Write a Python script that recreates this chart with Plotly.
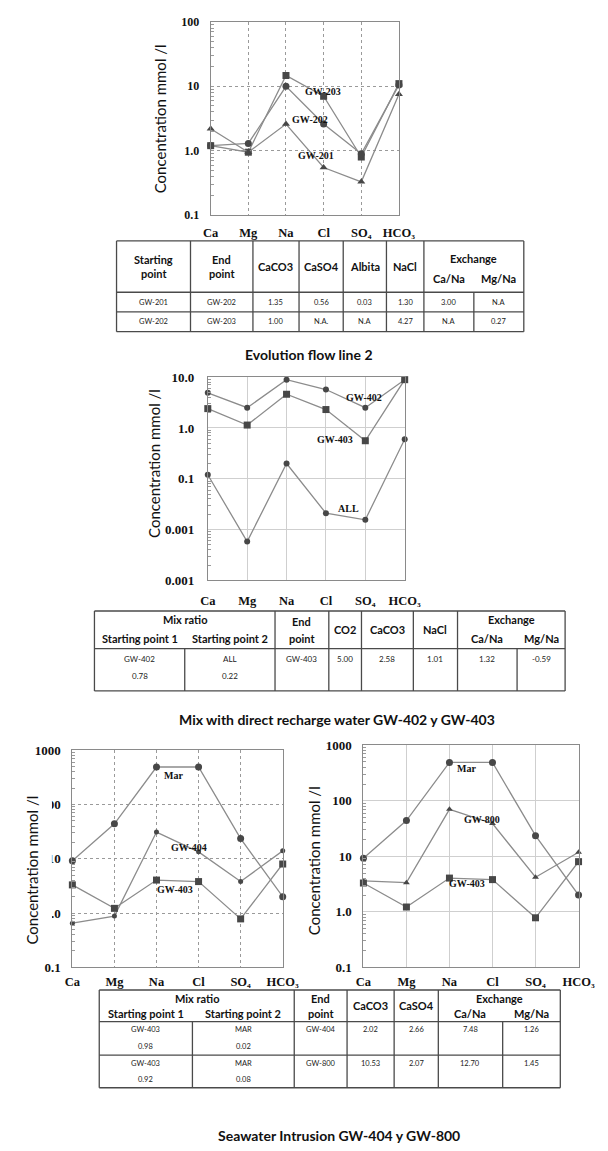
import plotly.graph_objects as go

W, H = 608, 1151

# ---------------------------------------------------------------- data
IONS = ["Ca", "Mg", "Na", "Cl", "SO4", "HCO3"]
ION_TICKS = ["<b>Ca</b>", "<b>Mg</b>", "<b>Na</b>", "<b>Cl</b>",
             "<b>SO\u2084</b>", "<b>HCO\u2083</b>"]

# Evolution flow line 2 (mmol/l)
GW201 = [2.2, 0.95, 2.6, 0.55, 0.33, 7.5]
GW202 = [1.2, 1.3, 10.0, 2.6, 0.9, 10.5]
GW203 = [1.2, 0.95, 14.7, 7.0, 0.8, 11.0]

# Mix with direct recharge water (mmol/l)
GW402 = [4.9, 2.5, 8.9, 5.7, 2.5, 8.9]
GW403_MIX = [2.4, 1.14, 4.6, 2.3, 0.56, 8.9]
ALL = [0.12, 0.0058, 0.2, 0.021, 0.0156, 0.6]

# Seawater intrusion (mmol/l)
MAR = [9.2, 44, 490, 490, 23.5, 2.0]
GW404 = [0.65, 0.88, 31, 13.4, 3.8, 14]
GW403_SEA = [3.3, 1.22, 4.05, 3.8, 0.78, 8.0]
GW800 = [3.6, 3.35, 70, 39, 4.2, 11.8]

# Mass-balance tables (two-line headers given as [upper, lower])
T1_HEAD = [["Starting", "point"], ["End", "point"], ["CaCO3"], ["CaSO4"], ["Albita"], ["NaCl"]]
T1_EXCH = ["Exchange", "Ca/Na", "Mg/Na"]
T1_ROWS = [["GW-201", "GW-202", "1.35", "0.56", "0.03", "1.30", "3.00", "N.A"],
           ["GW-202", "GW-203", "1.00", "N.A.", "N.A", "4.27", "N.A", "0.27"]]

T2_MIX = ["Mix ratio", "Starting point 1", "Starting point 2"]
T2_HEAD = [["End", "point"], ["CO2"], ["CaCO3"], ["NaCl"]]
T2_EXCH = ["Exchange", "Ca/Na", "Mg/Na"]
T2_ROW = [["GW-402", "ALL", "GW-403", "5.00", "2.58", "1.01", "1.32", "-0.59"],
          ["0.78", "0.22", "", "", "", "", "", ""]]

T3_MIX = ["Mix ratio", "Starting point 1", "Starting point 2"]
T3_HEAD = [["End", "point"], ["CaCO3"], ["CaSO4"]]
T3_EXCH = ["Exchange", "Ca/Na", "Mg/Na"]
T3_ROWS = [[["GW-403", "MAR", "GW-404", "2.02", "2.66", "7.48", "1.26"],
            ["0.98", "0.02", "", "", "", "", ""]],
           [["GW-403", "MAR", "GW-800", "10.53", "2.07", "12.70", "1.45"],
            ["0.92", "0.08", "", "", "", "", ""]]]

TITLES = ["Evolution flow line 2",
          "Mix with direct recharge water GW-402 y GW-403",
          "Seawater Intrusion GW-404 y GW-800"]
YTITLE = "Concentration mmol /l"

# ---------------------------------------------------------------- style
LINE_C = "#8c8c8c"
MARK_C = "#474747"
SERIF = "Liberation Serif"
SANS = "Lato"


def px(x):
    return x / W


def py(y):
    return 1 - y / H


fig = go.Figure()
layout_axes = {}
annotations = []
shapes = []


def add_chart(n, xpx, ypx, yrange, yvals, ytext, dash, gcolor, ysize, xstand, ystand):
    s = "" if n == 1 else str(n)
    minor_vals = [m * 10 ** k for k in range(yrange[0], yrange[1]) for m in range(2, 10)]
    layout_axes["xaxis" + s] = dict(
        domain=[px(xpx[0]), px(xpx[1])], anchor="y" + s, type="category",
        categoryorder="array", categoryarray=IONS, range=[0, 5],
        tickmode="array", tickvals=IONS, ticktext=ION_TICKS,
        tickfont=dict(family=SERIF, size=12.5, color="#111"),
        showgrid=True, gridcolor=gcolor, griddash=dash, gridwidth=1,
        showline=True, linecolor="#8a8a8a", linewidth=1, mirror=True,
        ticks="", ticklabelstandoff=xstand, zeroline=False, fixedrange=True)
    layout_axes["yaxis" + s] = dict(
        domain=[py(ypx[1]), py(ypx[0])], anchor="x" + s, type="log",
        range=yrange, tickmode="array", tickvals=yvals,
        ticktext=["<b>%s</b>" % t for t in ytext],
        tickfont=dict(family=SERIF, size=ysize, color="#111"),
        showgrid=True, gridcolor=gcolor, griddash=dash, gridwidth=1,
        showline=True, linecolor="#8a8a8a", linewidth=1, mirror=True,
        ticks="", ticklabelstandoff=ystand, zeroline=False, fixedrange=True,
        minor=dict(tickmode="array", tickvals=minor_vals, ticks="inside",
                   ticklen=3, tickcolor="#9a9a9a", showgrid=False))
    return ("x" + s, "y" + s)


def add_series(ax, vals, symbol, size):
    fig.add_trace(go.Scatter(
        x=IONS, y=vals, xaxis=ax[0], yaxis=ax[1], mode="lines+markers",
        line=dict(color=LINE_C, width=1.3),
        marker=dict(symbol=symbol, size=size, color=MARK_C),
        cliponaxis=False, showlegend=False, hoverinfo="skip"))


def label(x, y, text, size=10, family=SERIF, bold=True, color="#111"):
    t = "<b>%s</b>" % text if bold else text
    annotations.append(dict(x=px(x), y=py(y), xref="paper", yref="paper",
                            text=t, showarrow=False,
                            font=dict(family=family, size=size, color=color),
                            xanchor="center", yanchor="middle"))


def head(x, y, lines, size=11, gap=14):
    # one annotation per header line, stacked around y
    y0 = y - gap * (len(lines) - 1) / 2
    for k, t in enumerate(lines):
        label(x, y0 + gap * k, t, size, SANS)


def ytitle(x, y, bg=None, pad=1):
    annotations.append(dict(x=px(x), y=py(y), xref="paper", yref="paper",
                            text=YTITLE, showarrow=False, textangle=-90,
                            font=dict(family=SANS, size=15, color="#111"),
                            xanchor="center", yanchor="middle",
                            bgcolor=bg, borderpad=pad))


def hline(x0, x1, y, c="#4a4a4a", w=1.3):
    shapes.append(dict(type="line", xref="paper", yref="paper",
                       x0=px(x0), x1=px(x1), y0=py(y), y1=py(y),
                       line=dict(color=c, width=w)))


def vline(x, y0, y1, c="#4a4a4a", w=1.3):
    shapes.append(dict(type="line", xref="paper", yref="paper",
                       x0=px(x), x1=px(x), y0=py(y0), y1=py(y1),
                       line=dict(color=c, width=w)))


# ---------------------------------------------------------------- chart 1
ax1 = add_chart(1, (211, 407), (15, 211), [-1, 2], [0.1, 1, 10, 100],
                ["0.1", "1.0", "10", "100"], "dot", "#9a9a9a", 12, 6, 8)
add_series(ax1, GW203, "square", 7)
add_series(ax1, GW202, "circle", 7)
add_series(ax1, GW201, "triangle-up", 7)
label(328, 86, "GW-203")
label(314, 114, "GW-202")
label(321, 150, "GW-201")
ytitle(158, 113)

# ---------------------------------------------------------------- chart 2
ax2 = add_chart(2, (208, 413), (375, 581), [-3, 1], [0.001, 0.01, 0.1, 1, 10],
                ["0.001", "0.001", "0.1", "1.0", "10.0"], "solid", "#cfcfcf", 13, 9, 10)
add_series(ax2, GW402, "circle", 6)
add_series(ax2, GW403_MIX, "square", 7)
add_series(ax2, ALL, "circle", 6)
label(371, 396, "GW-402")
label(340, 438, "GW-403")
label(354, 508, "ALL")
ytitle(152, 463)

# ---------------------------------------------------------------- chart 3
ax3 = add_chart(3, (67, 286), (753, 973), [-1, 3], [0.1, 1, 10, 100, 1000],
                ["0.1", "1.0", "10", "100", "1000"], "dot", "#9a9a9a", 13, 3, 8)
add_series(ax3, MAR, "circle", 7)
add_series(ax3, GW404, "circle", 5)
add_series(ax3, GW403_SEA, "square", 7)
label(172, 779, "Mar")
label(188, 852, "GW-404")
label(174, 894, "GW-403")
ytitle(25, 875, bg="white", pad=10)

# ---------------------------------------------------------------- chart 4
ax4 = add_chart(4, (370, 594), (748, 973), [-1, 3], [0.1, 1, 10, 100, 1000],
                ["0.1", "1.0", "10", "100", "1000"], "solid", "#cfcfcf", 13, 3, 8)
add_series(ax4, MAR, "circle", 7)
add_series(ax4, GW800, "triangle-up", 6)
add_series(ax4, GW403_SEA, "square", 7)
label(477, 772, "Mar")
label(493, 823, "GW-800")
label(478, 888, "GW-403")
ytitle(318, 865)

# ---------------------------------------------------------------- table 1
TX1 = [113, 190, 255, 303, 349, 394, 433, 485, 537]
T1_TOP, T1_HD, T1_BOT = 237, 289, 329
T1_LINES = [309]
for y in [T1_TOP, T1_HD] + T1_LINES + [T1_BOT]:
    hline(TX1[0], TX1[-1], y)
for i, x in enumerate(TX1):
    vline(x, T1_HD if i == 7 else T1_TOP, T1_BOT)
for i, h in enumerate(T1_HEAD):
    head((TX1[i] + TX1[i + 1]) / 2, (T1_TOP + T1_HD) / 2, h)
label((TX1[6] + TX1[8]) / 2, 255, T1_EXCH[0], 11, SANS)
for j in range(2):
    label((TX1[6 + j] + TX1[7 + j]) / 2, 275, T1_EXCH[1 + j], 11, SANS)
row_edges = [T1_HD] + T1_LINES + [T1_BOT]
for r, row in enumerate(T1_ROWS):
    yc = (row_edges[r] + row_edges[r + 1]) / 2
    for i, v in enumerate(row):
        label((TX1[i] + TX1[i + 1]) / 2, yc, v, 7.5, SANS, bold=False, color="#222")
label(313, 352, TITLES[0], 14, SANS)

# ---------------------------------------------------------------- table 2
TX2 = [90, 184, 278, 334, 368, 422, 468, 530, 580]
T2_TOP, T2_HD, T2_BOT = 612, 650, 693
for y in (T2_TOP, T2_HD, T2_BOT):
    hline(TX2[0], TX2[-1], y)
for i, x in enumerate(TX2):
    vline(x, T2_HD if i in (1, 7) else T2_TOP, T2_BOT)
label((TX2[0] + TX2[2]) / 2, 621, T2_MIX[0], 11, SANS)
label((TX2[0] + TX2[1]) / 2, 640, T2_MIX[1], 11, SANS)
label((TX2[1] + TX2[2]) / 2, 640, T2_MIX[2], 11, SANS)
for i, h in enumerate(T2_HEAD):
    head((TX2[2 + i] + TX2[3 + i]) / 2, (T2_TOP + T2_HD) / 2, h, gap=17)
label((TX2[6] + TX2[8]) / 2, 621, T2_EXCH[0], 11, SANS)
label((TX2[6] + TX2[7]) / 2, 640, T2_EXCH[1], 11, SANS)
label((TX2[7] + TX2[8]) / 2, 640, T2_EXCH[2], 11, SANS)
for r, yc in enumerate([661, 678]):
    for i, v in enumerate(T2_ROW[r]):
        if v:
            label((TX2[i] + TX2[i + 1]) / 2, yc, v, 8, SANS, bold=False, color="#222")
label(342, 722, TITLES[1], 14, SANS)

# ---------------------------------------------------------------- table 3
TX3 = [95, 192, 298, 353, 402, 448, 515, 575]
T3_TOP, T3_HD, T3_BOT = 996, 1028, 1095
T3_LINES = [1062]
for y in [T3_TOP, T3_HD] + T3_LINES + [T3_BOT]:
    hline(TX3[0], TX3[-1], y)
for i, x in enumerate(TX3):
    vline(x, T3_HD if i in (1, 6) else T3_TOP, T3_BOT)
label((TX3[0] + TX3[2]) / 2, 1005, T3_MIX[0], 11, SANS)
label((TX3[0] + TX3[1]) / 2, 1020, T3_MIX[1], 11, SANS)
label((TX3[1] + TX3[2]) / 2, 1020, T3_MIX[2], 11, SANS)
for i, h in enumerate(T3_HEAD):
    head((TX3[2 + i] + TX3[3 + i]) / 2, (T3_TOP + T3_HD) / 2, h, gap=15)
label((TX3[5] + TX3[7]) / 2, 1005, T3_EXCH[0], 11, SANS)
label((TX3[5] + TX3[6]) / 2, 1020, T3_EXCH[1], 11, SANS)
label((TX3[6] + TX3[7]) / 2, 1020, T3_EXCH[2], 11, SANS)
row_edges = [T3_HD] + T3_LINES + [T3_BOT]
for r, rows in enumerate(T3_ROWS):
    top = row_edges[r]
    for k, line_vals in enumerate(rows):
        yc = top + 8 + 17 * k
        for i, v in enumerate(line_vals):
            if v:
                label((TX3[i] + TX3[i + 1]) / 2, yc, v, 7.5, SANS, bold=False, color="#222")
label(345, 1143, TITLES[2], 14, SANS)

fig.update_layout(width=W, height=H, margin=dict(l=0, r=0, t=0, b=0),
                  paper_bgcolor="white", plot_bgcolor="white", showlegend=False,
                  annotations=annotations, shapes=shapes, **layout_axes)
fig.write_html("out.html")
